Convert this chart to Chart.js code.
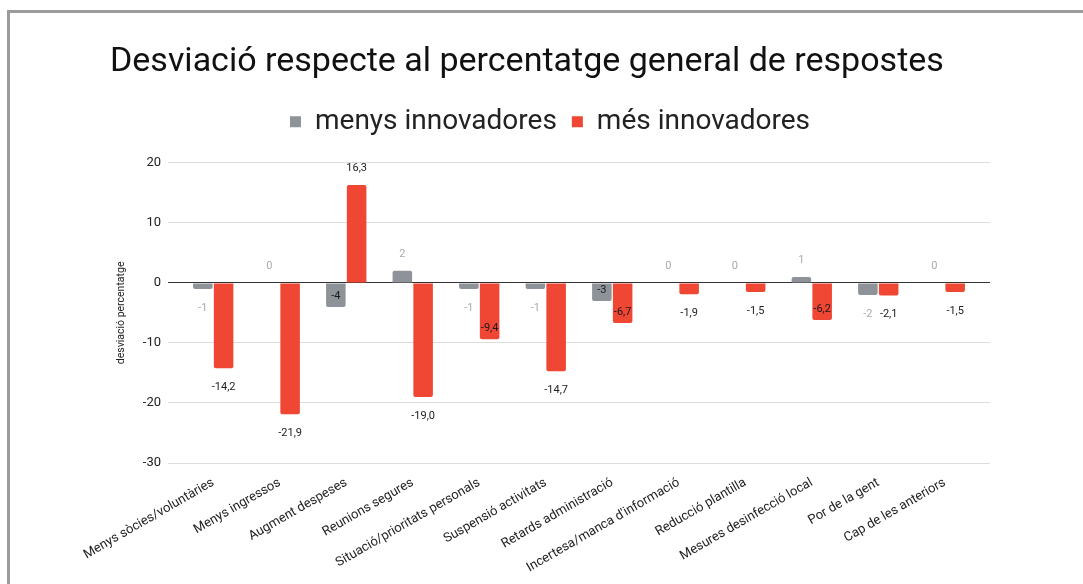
<!DOCTYPE html>
<html lang="ca">
<head>
<meta charset="utf-8">
<title>Desviació respecte al percentatge general de respostes</title>
<script src="https://cdn.jsdelivr.net/npm/chart.js@4.4.1/dist/chart.umd.min.js"></script>
<style>
  html, body { margin: 0; padding: 0; background: #fff; }
  #wrap { position: relative; width: 1083px; height: 584px; }
  #frame {
    position: absolute; left: 7px; top: 10px; right: 0; bottom: 0;
    border-top: 3px solid #9b9b9b; border-left: 3px solid #9b9b9b;
    pointer-events: none;
  }
</style>
</head>
<body>
<div id="wrap">
  <canvas id="chart"></canvas>
  <div id="frame"></div>
</div>
<script>
// ---- dades ----
const categories = [
  "Menys sòcies/voluntàries", "Menys ingressos", "Augment despeses",
  "Reunions segures", "Situació/prioritats personals", "Suspensió activitats",
  "Retards administració", "Incertesa/manca d'informació", "Reducció plantilla",
  "Mesures desinfecció local", "Por de la gent", "Cap de les anteriors"
];
const menysInnovadores = [-1, 0, -4, 2, -1, -1, -3, 0, 0, 1, -2, 0];
const mesInnovadores = [-14.2, -21.9, 16.3, -19.0, -9.4, -14.7, -6.7, -1.9, -1.5, -6.2, -2.1, -1.5];
const seriesNames = ["menys innovadores", "més innovadores"];
const seriesDecimals = [0, 1];
const yTicks = [20, 10, 0, -10, -20, -30];

const GRAY = "#8e9299";
const RED = "#f04634";
const FONT = "Roboto";

// etiquetes de valor a la manera de Google Sheets
const valueLabels = {
  id: "valueLabels",
  afterDatasetsDraw(chart) {
    const ctx = chart.ctx;
    ctx.save();
    ctx.font = "11px " + FONT;
    ctx.textAlign = "center";
    ctx.textBaseline = "middle";
    chart.data.datasets.forEach((ds, di) => {
      const meta = chart.getDatasetMeta(di);
      meta.data.forEach((bar, i) => {
        const v = ds.data[i];
        const txt = v.toFixed(seriesDecimals[di]).replace(".", ",");
        let y, color;
        if (v >= 0) {
          y = bar.y - 17;
          color = di === 0 ? "#aaaaaa" : "#222";
        } else if (Math.abs(v) > 2.5 && Math.abs(v) < 10) {
          y = bar.y - 11; // dins la barra
          color = "#1a1a1a";
        } else {
          y = bar.y + 19;
          color = di === 0 ? "#aaaaaa" : "#222";
        }
        ctx.fillStyle = color;
        ctx.fillText(txt, bar.x, y);
      });
    });
    ctx.restore();
  }
};

new Chart(document.getElementById("chart"), {
  type: "bar",
  data: {
    labels: categories,
    datasets: [
      { label: seriesNames[0], data: menysInnovadores, backgroundColor: GRAY },
      { label: seriesNames[1], data: mesInnovadores, backgroundColor: RED }
    ]
  },
  options: {
    responsive: true,
    maintainAspectRatio: false,
    animation: false,
    events: [],
    categoryPercentage: 0.625,
    barPercentage: 0.94,
    borderRadius: 2,
    layout: { padding: { left: 110, right: 93, top: 10, bottom: 0 } },
    plugins: {
      title: {
        display: true,
        text: "Desviació respecte al percentatge general de respostes",
        align: "start",
        color: "#111",
        font: { family: FONT, size: 34, weight: "normal" },
        padding: { top: 32, bottom: 10 }
      },
      legend: {
        display: true,
        labels: {
          color: "#222",
          font: { family: FONT, size: 28 },
          boxWidth: 11,
          boxHeight: 11,
          padding: 15
        }
      },
      tooltip: { enabled: false }
    },
    scales: {
      x: {
        offset: true,
        grid: { display: false },
        border: { display: false },
        ticks: {
          color: "#222",
          font: { family: FONT, size: 13 },
          minRotation: 30,
          maxRotation: 30,
          autoSkip: false,
          padding: 4
        },
        afterFit(scale) { scale.height = 121; },
        afterUpdate(scale) {
          // marge extra als extrems, com a l'original
          scale._startValue -= 0.18;
          scale._valueRange += 0.36;
        }
      },
      // espai buit entre la llegenda i l'àrea del gràfic
      spacer: {
        type: "category",
        position: "top",
        grid: { display: false },
        border: { display: false },
        ticks: { display: false },
        afterFit(scale) { scale.height = 17; }
      },
      y: {
        min: -30,
        max: 20,
        afterBuildTicks(scale) { scale.ticks = yTicks.map(v => ({ value: v })); },
        grid: {
          drawTicks: false,
          color: (c) => c.tick && c.tick.value === 0 ? "#333" : "#dcdcdc",
          lineWidth: 1
        },
        border: { display: false },
        ticks: {
          color: "#222",
          font: { family: FONT, size: 13 },
          padding: 7
        },
        title: {
          display: true,
          text: "desviació percentatge",
          color: "#222",
          font: { family: FONT, size: 10.5 },
          padding: { top: 5, bottom: 4 }
        },
        afterFit(scale) { scale.width = 168 - 110; }
      }
    }
  },
  plugins: [valueLabels]
});
</script>
</body>
</html>
